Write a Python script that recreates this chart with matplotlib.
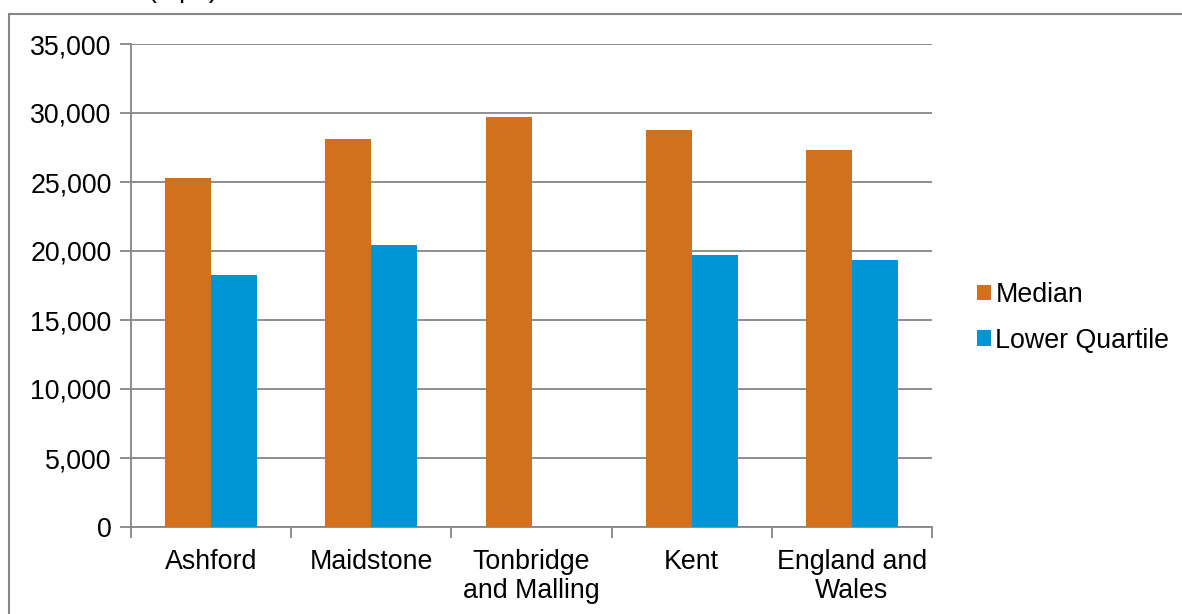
import numpy as np
import matplotlib
matplotlib.use("Agg")
import matplotlib.pyplot as plt
from matplotlib.patches import Rectangle
from matplotlib.ticker import FuncFormatter

plt.rcParams["font.family"] = ["Liberation Sans", "DejaVu Sans"]

categories = ["Ashford", "Maidstone", "Tonbridge\nand Malling", "Kent", "England and\nWales"]
median = [25300, 28100, 29700, 28750, 27350]
lower_quartile = [18250, 20450, np.nan, 19700, 19350]
series_names = ["Median", "Lower Quartile"]

ORANGE = "#D2711C"
BLUE = "#0096D6"
GRID = "#868686"
FS = 19.3

fig = plt.figure(figsize=(11.82, 6.14), dpi=100)
ax = fig.add_axes([131 / 1182, 1 - 527 / 614, 801 / 1182, 483 / 614])

x = np.arange(len(categories))
w = 0.287
ax.bar(x - w / 2, median, w, color=ORANGE, label=series_names[0], zorder=3)
ax.bar(x + w / 2, lower_quartile, w, color=BLUE, label=series_names[1], zorder=3)

ax.set_xlim(-0.5, len(categories) - 0.5)
ax.set_ylim(0, 35000)
ax.set_yticks(np.arange(0, 35001, 5000))
ax.yaxis.set_major_formatter(FuncFormatter(lambda v, p: f"{int(v):,}"))
ax.yaxis.grid(True, color=GRID, linewidth=1.3, zorder=0)
ax.set_axisbelow(True)

# categories centred, ticks on the boundaries
ax.set_xticks(np.arange(-0.5, len(categories)), minor=False)
ax.set_xticklabels([])
ax.set_xticks(x, minor=True)
ax.set_xticklabels(categories, minor=True, fontsize=FS, linespacing=1.15)
ax.tick_params(axis="x", which="major", length=8, width=1.3, color=GRID, direction="out")
ax.tick_params(axis="x", which="minor", length=0, pad=16)
ax.tick_params(axis="y", length=8, width=1.3, color=GRID, labelsize=FS, pad=6)

for s in ("top", "right"):
    ax.spines[s].set_visible(False)
for s in ("left", "bottom"):
    ax.spines[s].set_color(GRID)
    ax.spines[s].set_linewidth(1.3)

fig.legend(loc="center left", bbox_to_anchor=(953 / 1182, 1 - 318 / 614), frameon=False,
           fontsize=FS, handlelength=0.5, handleheight=0.5, handletextpad=0.18,
           labelspacing=0.72)

# outer chart-area border (clipped at right and bottom in the reference)
fig.patches.append(Rectangle((9 / 1182, -0.1), 1.2, 1 - 14 / 614 + 0.1,
                             transform=fig.transFigure, fill=False,
                             edgecolor=GRID, linewidth=1.5))
# title cut off at the top edge
fig.text(148 / 1182, 1 + 3.5 / 614, "(£ pa)", fontsize=FS, ha="left", va="baseline")

fig.savefig("out.png", dpi=100)
